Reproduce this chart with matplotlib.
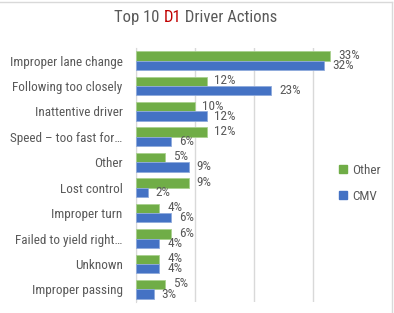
import numpy as np
import matplotlib
matplotlib.use('Agg')
import matplotlib.pyplot as plt
from matplotlib.lines import Line2D
from matplotlib import font_manager

categories = ['Improper lane change', 'Following too closely', 'Inattentive driver',
              'Speed \u2013 too fast for\u2026', 'Other', 'Lost control', 'Improper turn',
              'Failed to yield right\u2026', 'Unknown', 'Improper passing']
other_vals = [33, 12, 10, 12, 5, 9, 4, 6, 4, 5]
cmv_vals = [32, 23, 12, 6, 9, 2, 6, 4, 4, 3]
x_ticks = [0, 10, 20, 30]

green = '#70AD47'
blue = '#4472C4'
txt = '#595959'

# pick a narrow font if there is one, else shrink Liberation Sans
names = {f.name for f in font_manager.fontManager.ttflist}
narrow = [n for n in ['Liberation Sans Narrow', 'DejaVu Sans Condensed', 'Roboto Condensed'] if n in names]
if narrow:
    plt.rcParams['font.family'] = [narrow[0], 'DejaVu Sans']
    fs, tfs = 9.5, 12
else:
    plt.rcParams['font.family'] = ['Liberation Sans', 'DejaVu Sans']
    fs, tfs = 8.2, 11

fig = plt.figure(figsize=(3.94, 3.13), dpi=100)
ax = fig.add_axes([0.345, 0.035, 0.523, 0.812])

y = np.arange(len(categories))
h = 0.37
ax.barh(y - h / 2, other_vals, height=h, color=green, edgecolor='#A9D18E', linewidth=0.6, label='Other', zorder=3)
ax.barh(y + h / 2, cmv_vals, height=h, color=blue, edgecolor='#8FAADC', linewidth=0.6, label='CMV', zorder=3)

for i in range(len(categories)):
    ax.annotate(f'{other_vals[i]}%', (other_vals[i], y[i] - h / 2), xytext=(5.5, 0.5),
                textcoords='offset points', va='center', ha='left', fontsize=fs, color=txt)
    ax.annotate(f'{cmv_vals[i]}%', (cmv_vals[i], y[i] + h / 2), xytext=(5.5, 0),
                textcoords='offset points', va='center', ha='left', fontsize=fs, color=txt)

ax.set_xlim(0, 35)
ax.set_ylim(len(categories) - 0.5, -0.5)
ax.set_xticks(x_ticks)
ax.set_xticklabels([])
ax.tick_params(axis='x', length=0)
ax.grid(axis='x', color='#D9D9D9', linewidth=1, zorder=0)
ax.set_yticks(y)
ax.set_yticklabels(categories, fontsize=fs, color=txt)
ax.tick_params(axis='y', length=0, pad=9.5)
for s in ['top', 'right', 'bottom']:
    ax.spines[s].set_visible(False)
ax.spines['left'].set_color('#D9D9D9')

handles = [Line2D([], [], marker='s', linestyle='none', markersize=6, color=green),
           Line2D([], [], marker='s', linestyle='none', markersize=6, color=blue)]
fig.legend(handles, ['Other', 'CMV'], loc='center left', bbox_to_anchor=(0.858, 0.415),
           frameon=False, fontsize=fs, labelcolor=txt, handlelength=0.7, handletextpad=0.4,
           labelspacing=1.0, borderpad=0, borderaxespad=0)

fig.text(0.415, 0.945, 'Top 10 ', ha='right', va='center', fontsize=tfs, color=txt)
d1 = fig.text(0.415, 0.945, 'D1', ha='left', va='center', fontsize=tfs, color='#C00000')
fig.canvas.draw()
bb = d1.get_window_extent().transformed(fig.transFigure.inverted())
fig.text(bb.x1, 0.945, ' Driver Actions', ha='left', va='center', fontsize=tfs, color=txt)

fig.add_artist(Line2D([0, 0.995], [0.995, 0.995], color='#D9D9D9', linewidth=1))
fig.add_artist(Line2D([0.995, 0.995], [0, 0.995], color='#D9D9D9', linewidth=1))

fig.savefig('out.png', dpi=100)
